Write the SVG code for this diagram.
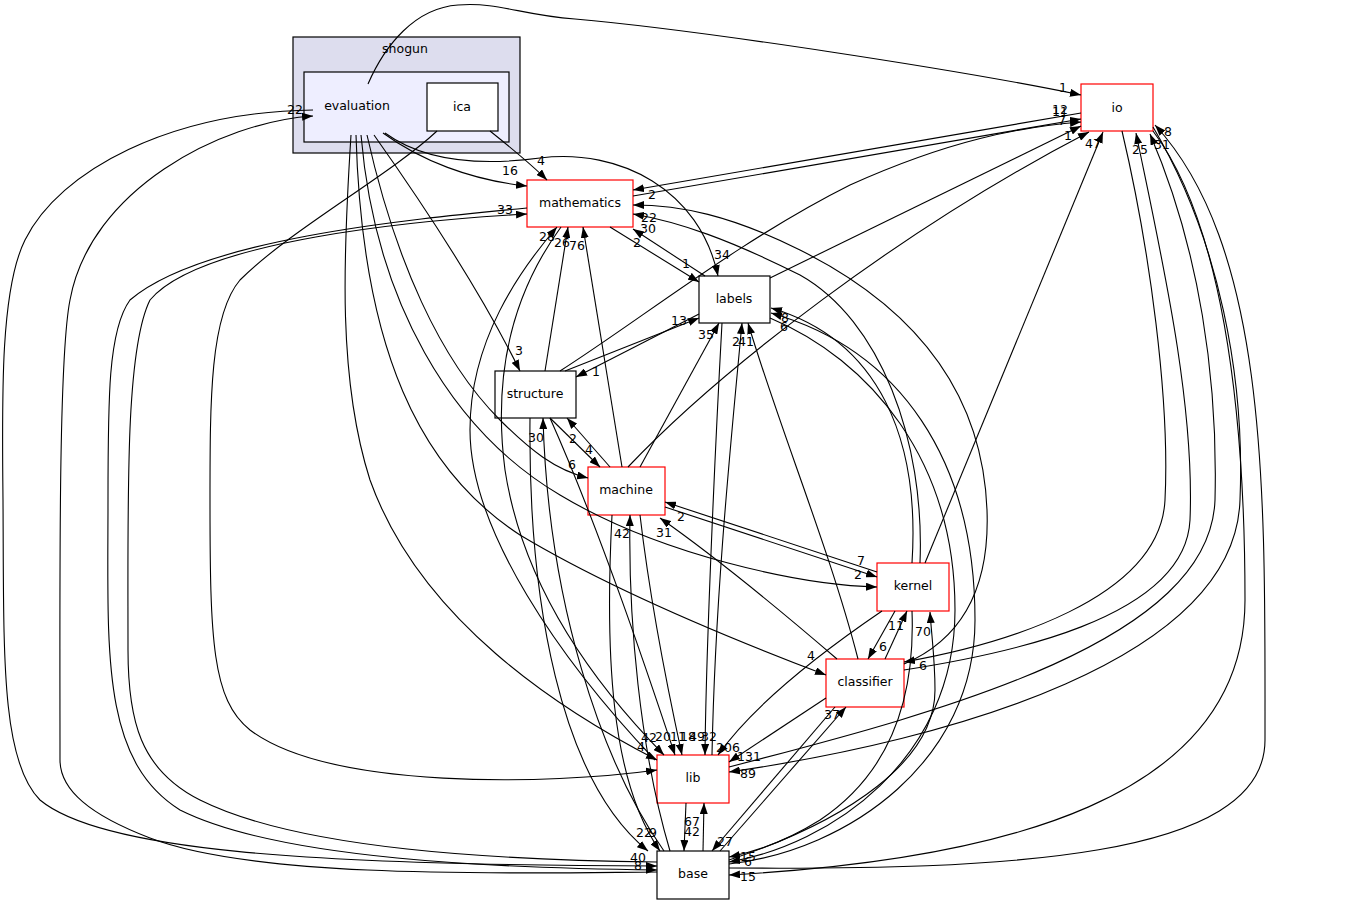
<svg xmlns="http://www.w3.org/2000/svg" width="1347" height="905" viewBox="0 0 1347 905">
<defs>
<style>
.e{fill:none;stroke:#000;stroke-width:1.1;marker-end:url(#ah)}
.l{font-family:"DejaVu Sans","Liberation Sans",sans-serif;font-size:12.5px;text-anchor:middle;fill:#000}
.n{font-family:"DejaVu Sans","Liberation Sans",sans-serif;font-size:12.5px;text-anchor:middle;fill:#000}
.red{fill:#fff;stroke:#ff0000;stroke-width:1.2}
.blk{fill:#fff;stroke:#000;stroke-width:1.2}
</style>
<marker id="ah" viewBox="0 0 11 8" refX="11" refY="4" markerWidth="11" markerHeight="8" markerUnits="userSpaceOnUse" orient="auto"><path d="M0,0 L11,4 L0,8z" fill="#000"/></marker>
</defs>
<rect width="1347" height="905" fill="#fff"/>
<g id="cluster_shogun">
<rect x="293" y="37" width="227" height="116" fill="#ddddee" stroke="#000" stroke-width="1.2"/>
<text class="n" x="405" y="53">shogun</text>
</g>
<g id="cluster_evaluation">
<rect x="304" y="72" width="205" height="70" fill="#eeeeff" stroke="#000" stroke-width="1.2"/>
<text class="n" x="357" y="110">evaluation</text>
</g>
<g id="node_ica"><rect class="blk" x="427" y="83" width="71" height="48"/><text class="n" x="462" y="111">ica</text></g>
<g id="node_io"><rect class="red" x="1081" y="84" width="72" height="47"/><text class="n" x="1117" y="112">io</text></g>
<g id="node_mathematics"><rect class="red" x="527" y="180" width="106" height="47"/><text class="n" x="580" y="207">mathematics</text></g>
<g id="node_labels"><rect class="blk" x="699" y="276" width="71" height="47"/><text class="n" x="734" y="303">labels</text></g>
<g id="node_structure"><rect class="blk" x="495" y="371" width="81" height="47"/><text class="n" x="535" y="398">structure</text></g>
<g id="node_machine"><rect class="red" x="588" y="467" width="77" height="48"/><text class="n" x="626" y="494">machine</text></g>
<g id="node_kernel"><rect class="red" x="877" y="563" width="72" height="48"/><text class="n" x="913" y="590">kernel</text></g>
<g id="node_classifier"><rect class="red" x="826" y="659" width="78" height="48"/><text class="n" x="865" y="686">classifier</text></g>
<g id="node_lib"><rect class="red" x="657" y="755" width="72" height="48"/><text class="n" x="693" y="782">lib</text></g>
<g id="node_base"><rect class="blk" x="657" y="851" width="72" height="48"/><text class="n" x="693" y="878">base</text></g>
<g id="connectors">
<path class="e" d="M368,84 C385,45 415,8 458,5 C500,2 520,15 575,19 C700,30 960,70 1081,95"/>
<path class="e" d="M657,872 C520,873 260,880 150,838 C90,815 60,790 60,760 C60,600 58,360 70,300 C90,190 220,122 313,116"/>
<path class="e" d="M313,110 C170,112 60,170 25,240 C0,290 2,400 3,500 C4,650 0,760 40,800 C100,850 300,865 657,866"/>
<path class="e" d="M527,208 C400,220 200,240 130,300 C108,330 108,400 108,500 C108,650 100,760 180,810 C280,860 500,868 657,870"/>
<path class="e" d="M657,862 C500,860 300,850 200,800 C140,770 128,720 128,650 C128,500 125,350 150,300 C200,240 420,220 527,214"/>
<path class="e" d="M383,133 C420,160 470,180 527,186"/>
<path class="e" d="M385,133 C425,162 480,166 540,158 C620,148 700,190 718,276"/>
<path class="e" d="M374,135 C420,200 480,290 520,371"/>
<path class="e" d="M367,135 C395,260 440,360 500,420 C530,450 555,470 588,478"/>
<path class="e" d="M361,135 C375,300 450,430 560,495 C660,555 800,585 877,587"/>
<path class="e" d="M356,135 C362,350 420,470 520,535 C620,595 760,650 826,675"/>
<path class="e" d="M351,135 C343,260 338,380 370,480 C420,620 560,710 657,760"/>
<path class="e" d="M490,131 C510,147 530,163 547,180"/>
<path class="e" d="M437,131 C390,175 290,230 240,280 C210,315 210,400 210,500 C210,640 212,700 250,730 C330,790 550,785 657,770"/>
<path class="e" d="M633,196 L1081,119"/>
<path class="e" d="M1081,113 L633,190"/>
<path class="e" d="M610,227 L699,282"/>
<path class="e" d="M705,276 L633,229"/>
<path class="e" d="M920,563 C925,440 880,320 800,275 C730,240 680,222 633,214"/>
<path class="e" d="M904,664 C960,640 990,590 987,510 C982,380 900,300 800,250 C730,215 680,205 633,205"/>
<path class="e" d="M545,371 L568,227"/>
<path class="e" d="M622,467 L583,227"/>
<path class="e" d="M655,760 C560,660 470,530 470,430 C470,340 520,270 557,227"/>
<path class="e" d="M561,227 C515,290 492,370 505,470 C525,600 610,700 664,755"/>
<path class="e" d="M565,371 L699,318"/>
<path class="e" d="M699,314 L576,377"/>
<path class="e" d="M560,371 C640,320 740,240 850,185 C950,140 1020,127 1081,122"/>
<path class="e" d="M770,278 L1081,126"/>
<path class="e" d="M628,467 C720,370 900,230 1089,132"/>
<path class="e" d="M925,563 L1103,132"/>
<path class="e" d="M904,670 C1000,655 1185,620 1190,520 C1195,400 1160,250 1136,133"/>
<path class="e" d="M1122,131 C1150,250 1170,400 1165,500 C1160,600 1000,645 904,662"/>
<path class="e" d="M729,767 C950,710 1210,640 1215,500 C1218,380 1200,250 1150,134"/>
<path class="e" d="M1153,127 C1220,240 1245,380 1240,500 C1235,660 950,740 729,772"/>
<path class="e" d="M729,868 C1000,870 1265,860 1265,740 C1265,500 1270,250 1155,125"/>
<path class="e" d="M1153,131 C1220,220 1245,400 1245,600 C1245,800 1000,860 729,875"/>
<path class="e" d="M550,418 L600,467"/>
<path class="e" d="M610,467 L567,418"/>
<path class="e" d="M640,467 L719,323"/>
<path class="e" d="M722,323 C715,450 706,650 705,755"/>
<path class="e" d="M712,755 C715,600 730,450 742,323"/>
<path class="e" d="M858,659 C830,550 780,430 748,323"/>
<path class="e" d="M912,563 C920,440 880,340 771,308"/>
<path class="e" d="M729,864 C850,850 975,760 975,620 C975,460 900,350 771,313"/>
<path class="e" d="M770,318 C870,360 955,460 955,610 C955,760 830,845 729,862"/>
<path class="e" d="M665,507 L877,577"/>
<path class="e" d="M877,572 L665,502"/>
<path class="e" d="M837,659 C780,610 720,560 660,518"/>
<path class="e" d="M895,611 L868,659"/>
<path class="e" d="M885,659 L907,611"/>
<path class="e" d="M729,860 C850,820 935,760 935,690 C935,660 932,640 930,612"/>
<path class="e" d="M912,611 C915,690 895,770 820,820 C780,845 750,853 729,857"/>
<path class="e" d="M882,611 C810,660 750,710 718,755"/>
<path class="e" d="M826,698 L729,762"/>
<path class="e" d="M720,851 L846,707"/>
<path class="e" d="M835,707 L712,851"/>
<path class="e" d="M686,803 L684,851"/>
<path class="e" d="M703,851 L704,803"/>
<path class="e" d="M530,418 C528,600 560,780 648,851"/>
<path class="e" d="M612,515 C605,650 610,780 660,851"/>
<path class="e" d="M664,851 C600,760 548,600 543,418"/>
<path class="e" d="M670,851 C640,750 628,620 630,515"/>
<path class="e" d="M550,418 C600,530 650,680 675,755"/>
<path class="e" d="M640,515 C650,600 670,700 682,755"/>
</g>
<g id="edge_labels">
<text class="l" x="1063" y="92">1</text>
<text class="l" x="295" y="114">22</text>
<text class="l" x="638" y="862">40</text>
<text class="l" x="638" y="870">8</text>
<text class="l" x="505" y="214">33</text>
<text class="l" x="510" y="175">16</text>
<text class="l" x="722" y="259">34</text>
<text class="l" x="519" y="355">3</text>
<text class="l" x="572" y="469">6</text>
<text class="l" x="858" y="579">2</text>
<text class="l" x="811" y="660">4</text>
<text class="l" x="541" y="165">4</text>
<text class="l" x="641" y="751">4</text>
<text class="l" x="649" y="742">42</text>
<text class="l" x="1060" y="114">12</text>
<text class="l" x="1060" y="116">11</text>
<text class="l" x="1062" y="125">7</text>
<text class="l" x="652" y="199">2</text>
<text class="l" x="686" y="268">1</text>
<text class="l" x="648" y="233">30</text>
<text class="l" x="637" y="247">2</text>
<text class="l" x="649" y="222">22</text>
<text class="l" x="547" y="241">28</text>
<text class="l" x="562" y="247">26</text>
<text class="l" x="577" y="250">76</text>
<text class="l" x="663" y="741">20</text>
<text class="l" x="679" y="325">13</text>
<text class="l" x="596" y="376">1</text>
<text class="l" x="1068" y="140">1</text>
<text class="l" x="1093" y="148">47</text>
<text class="l" x="1140" y="154">25</text>
<text class="l" x="923" y="670">6</text>
<text class="l" x="1162" y="149">31</text>
<text class="l" x="748" y="778">89</text>
<text class="l" x="1168" y="136">8</text>
<text class="l" x="748" y="881">15</text>
<text class="l" x="589" y="454">4</text>
<text class="l" x="573" y="443">2</text>
<text class="l" x="706" y="339">35</text>
<text class="l" x="697" y="741">49</text>
<text class="l" x="746" y="346">41</text>
<text class="l" x="736" y="346">2</text>
<text class="l" x="785" y="322">8</text>
<text class="l" x="784" y="331">6</text>
<text class="l" x="748" y="866">6</text>
<text class="l" x="861" y="565">7</text>
<text class="l" x="681" y="521">2</text>
<text class="l" x="664" y="537">31</text>
<text class="l" x="883" y="651">6</text>
<text class="l" x="896" y="630">11</text>
<text class="l" x="923" y="636">70</text>
<text class="l" x="748" y="861">15</text>
<text class="l" x="728" y="752">206</text>
<text class="l" x="749" y="761">131</text>
<text class="l" x="832" y="719">37</text>
<text class="l" x="725" y="846">27</text>
<text class="l" x="692" y="836">42</text>
<text class="l" x="692" y="826">67</text>
<text class="l" x="644" y="837">22</text>
<text class="l" x="653" y="837">9</text>
<text class="l" x="536" y="442">30</text>
<text class="l" x="622" y="538">42</text>
<text class="l" x="678" y="741">11</text>
<text class="l" x="688" y="741">18</text>
<text class="l" x="709" y="741">32</text>
</g>
</svg>
